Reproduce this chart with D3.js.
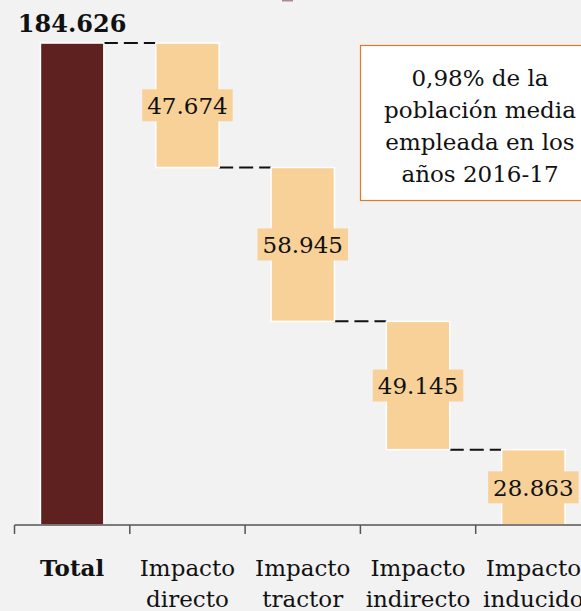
<!DOCTYPE html>
<html>
<head>
<meta charset="utf-8">
<script src="https://cdn.jsdelivr.net/npm/d3@7"></script>
<style>
  html, body { margin: 0; padding: 0; background: #f2f2f2; overflow: hidden; }
  svg { display: block; font-family: "DejaVu Serif", Georgia, serif; }
</style>
</head>
<body>
<svg id="chart"></svg>
<script>
// waterfall data
const categories = ['Total', 'Impacto directo', 'Impacto tractor', 'Impacto indirecto', 'Impacto inducido'];
const values = [184626, 47674, 58945, 49145, 28863];
const valueLabels = ['184.626', '47.674', '58.945', '49.145', '28.863'];
const noteLines = ['0,98% de la', 'población media', 'empleada en los', 'años 2016-17'];

const width = 581, height = 611;
const svg = d3.select('#chart').attr('width', width).attr('height', height);

const darkColor = '#5e2120';
const lightColor = '#f8d199';

const x = d3.scaleBand().domain(categories).range([14.5, 591]).padding(0);
const y = d3.scaleLinear().domain([0, 200000]).range([525, 2.9]);
const barW = x.bandwidth() * 0.55;

// stacked positions: total from 0, parts stepping down from the top
let running = values[0];
const bars = categories.map((c, i) => {
  if (i === 0) return { cat: c, y0: 0, y1: values[0], v: values[0], label: valueLabels[0] };
  const top = running;
  running -= values[i];
  return { cat: c, y0: running, y1: top, v: values[i], label: valueLabels[i] };
});

// small fragment of something cut off at the top
svg.append('rect')
  .attr('x', 282).attr('y', -3).attr('width', 11).attr('height', 4.5)
  .attr('fill', '#b48888');

// connectors
bars.slice(0, -1).forEach((b, i) => {
  const next = bars[i + 1];
  const cx = x(b.cat) + x.bandwidth() / 2;
  const nx = x(next.cat) + x.bandwidth() / 2;
  const ly = y(i === 0 ? b.y1 : b.y0);
  svg.append('line')
    .attr('x1', cx + barW / 2).attr('x2', nx - barW / 2)
    .attr('y1', ly).attr('y2', ly)
    .attr('stroke', '#111')
    .attr('stroke-width', 2)
    .attr('stroke-dasharray', '14 6');
});

// bars
svg.append('g').selectAll('rect')
  .data(bars)
  .join('rect')
  .attr('x', d => x(d.cat) + (x.bandwidth() - barW) / 2)
  .attr('y', d => y(d.y1))
  .attr('width', barW)
  .attr('height', d => y(d.y0) - y(d.y1))
  .attr('fill', (d, i) => i === 0 ? darkColor : lightColor)
  .attr('stroke', '#fff')
  .attr('stroke-width', 1.5);

// value labels for parts, with a box behind
bars.slice(1).forEach(d => {
  const cx = x(d.cat) + x.bandwidth() / 2;
  const cy = (y(d.y0) + y(d.y1)) / 2;
  const g = svg.append('g');
  const t = g.append('text')
    .attr('x', cx).attr('y', cy).attr('dy', '0.36em')
    .attr('text-anchor', 'middle')
    .attr('font-size', 23)
    .attr('fill', '#111')
    .text(d.label);
  const bb = t.node().getBBox();
  g.insert('rect', 'text')
    .attr('x', cx - bb.width / 2 - 5)
    .attr('y', cy - 16)
    .attr('width', bb.width + 10)
    .attr('height', 32)
    .attr('fill', lightColor);
});

// total label on top
svg.append('text')
  .attr('x', x(bars[0].cat) + x.bandwidth() / 2)
  .attr('y', y(bars[0].y1) - 11)
  .attr('text-anchor', 'middle')
  .attr('font-size', 24)
  .attr('font-weight', 'bold')
  .attr('fill', '#111')
  .text(bars[0].label);

// axis
const axisG = svg.append('g').attr('class', 'axis');
axisG.append('line')
  .attr('x1', x.range()[0]).attr('x2', x.range()[1])
  .attr('y1', 525).attr('y2', 525)
  .attr('stroke', '#555').attr('stroke-width', 1.5);
axisG.selectAll('.tick')
  .data(categories)
  .join('line')
  .attr('class', 'tick')
  .attr('x1', d => x(d)).attr('x2', d => x(d))
  .attr('y1', 525).attr('y2', 534)
  .attr('stroke', '#555').attr('stroke-width', 1.5);

// category labels
axisG.selectAll('.cat')
  .data(categories)
  .join('text')
  .attr('class', 'cat')
  .attr('text-anchor', 'middle')
  .attr('font-size', 23)
  .attr('fill', '#111')
  .attr('font-weight', (d, i) => i === 0 ? 'bold' : 'normal')
  .each(function(d) {
    const words = d.split(' ');
    const cx = x(d) + x.bandwidth() / 2;
    d3.select(this).selectAll('tspan')
      .data(words)
      .join('tspan')
      .attr('x', cx)
      .attr('y', (w, j) => 576 + j * 31)
      .text(w => w);
  });

// note box
const note = svg.append('g');
note.append('rect')
  .attr('x', 360.5).attr('y', 45.5)
  .attr('width', 240).attr('height', 155)
  .attr('fill', '#fff')
  .attr('stroke', '#e07a2a')
  .attr('stroke-width', 1.2);
note.selectAll('text')
  .data(noteLines)
  .join('text')
  .attr('x', 480)
  .attr('y', (d, i) => 86 + i * 32)
  .attr('text-anchor', 'middle')
  .attr('font-size', 23)
  .attr('fill', '#111')
  .text(d => d);
</script>
</body>
</html>
